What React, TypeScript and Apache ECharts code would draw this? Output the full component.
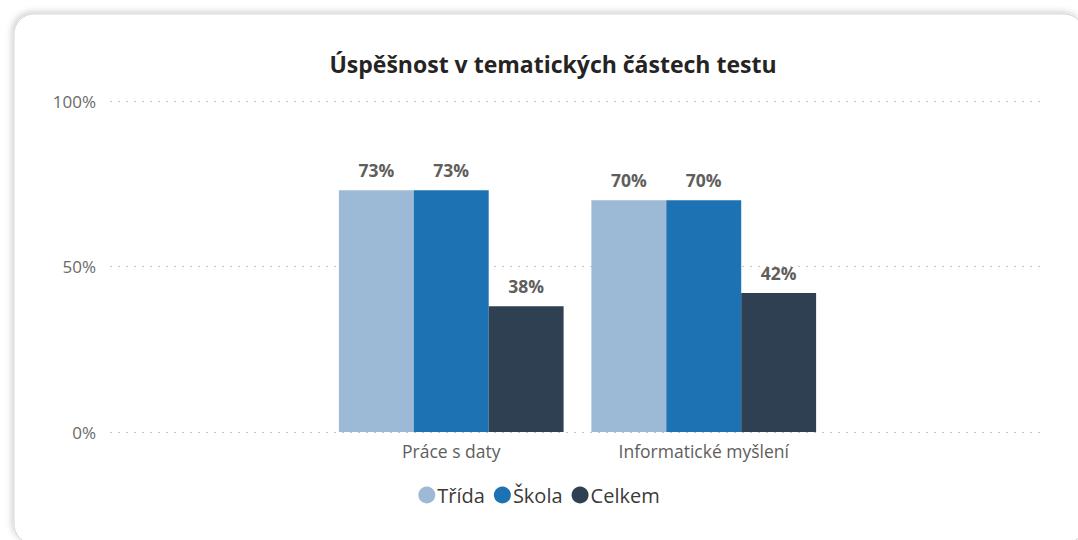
import React, { useEffect, useRef } from "react";
import * as echarts from "echarts";

const categories = ["Práce s daty", "Informatické myšlení"];
const seriesNames = ["Třída", "Škola", "Celkem"];
const tridaValues = [73, 70];
const skolaValues = [73, 70];
const celkemValues = [38, 42];
const yTicks = [0, 50, 100];

const colors = ["#9CBAD6", "#1C72B3", "#2E4051"];
const FONT = "'Open Sans', 'Noto Sans', sans-serif";

export default function App() {
  const ref = useRef<HTMLDivElement>(null);
  useEffect(() => {
    if (!ref.current) return;
    const chart = echarts.init(ref.current, null, { renderer: "svg" });
    const values = [tridaValues, skolaValues, celkemValues];
    const option: any = {
      animation: false,
      backgroundColor: "#ffffff",
      graphic: [
        {
          type: "rect",
          z: -10,
          shape: { x: 14, y: 14, width: 1070, height: 530, r: 20 },
          style: {
            fill: "#ffffff",
            stroke: "#d6d6d6",
            lineWidth: 1,
            shadowBlur: 6,
            shadowColor: "rgba(0,0,0,0.18)",
            shadowOffsetX: -2,
            shadowOffsetY: -2,
          },
        },
      ],
      title: {
        text: "Úspěšnost v tematických částech testu",
        left: 548,
        textAlign: "center",
        top: 47,
        textStyle: { fontFamily: FONT, fontSize: 23, fontWeight: "bold", color: "#252423" },
      },
      legend: {
        data: seriesNames,
        bottom: 30,
        left: "center",
        icon: "circle",
        itemWidth: 17,
        itemHeight: 17,
        itemGap: 9,
        textStyle: { fontFamily: FONT, fontSize: 20, color: "#3b3a39", padding: [0, 0, 0, -3] },
      },
      grid: [
        { left: 110, right: 36, top: 101, bottom: 108 },
        { left: 325, width: 505, top: 101, bottom: 108 },
      ],
      xAxis: [
        { type: "category", gridIndex: 0, data: ["a"], show: false },
        {
          type: "category",
          gridIndex: 1,
          data: categories,
          axisLine: { show: false },
          axisTick: { show: false },
          axisLabel: { fontFamily: FONT, fontSize: 17.5, color: "#605E5C", margin: 10 },
        },
      ],
      yAxis: [
        {
          type: "value",
          gridIndex: 0,
          min: 0,
          max: 100,
          interval: 50,
          axisLine: { show: false },
          axisTick: { show: false },
          axisLabel: {
            fontFamily: FONT,
            fontSize: 17,
            color: "#6b6a69",
            margin: 14,
            formatter: (v: number) => (yTicks.includes(v) ? v + "%" : ""),
          },
          splitLine: { lineStyle: { color: "#c8c6c4", type: [2, 6], width: 1.2 } },
        },
        { type: "value", gridIndex: 1, min: 0, max: 100, show: false },
      ],
      series: seriesNames.map((name, i) => ({
        name,
        type: "bar",
        xAxisIndex: 1,
        yAxisIndex: 1,
        data: values[i],
        barGap: "0%",
        barCategoryGap: "11%",
        itemStyle: { color: colors[i] },
        label: {
          show: true,
          position: "top",
          distance: 11,
          formatter: "{c}%",
          fontFamily: FONT,
          fontSize: 17.5,
          fontWeight: "bold",
          color: "#605E5C",
        },
      })),
    };
    chart.setOption(option);
    return () => chart.dispose();
  }, []);
  return (
    <div
      ref={ref}
      style={{ position: "fixed", left: 0, top: 0, width: 1078, height: 540 }}
    />
  );
}
